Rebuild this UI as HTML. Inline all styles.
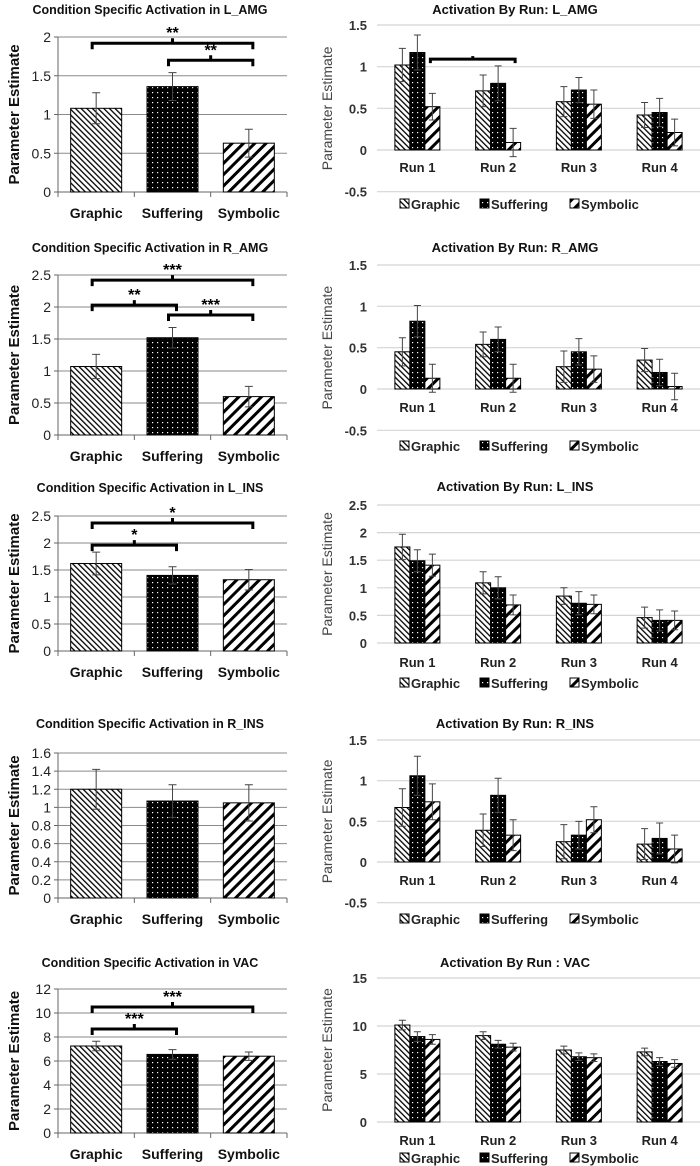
<!DOCTYPE html>
<html><head><meta charset="utf-8">
<style>
html,body{margin:0;padding:0;background:#fff;}
svg{display:block;font-family:"Liberation Sans",sans-serif;}
</style></head>
<body>
<svg id="fig" width="700" height="1166" viewBox="0 0 700 1166" xmlns="http://www.w3.org/2000/svg">
<defs>
<pattern id="pG" patternUnits="userSpaceOnUse" width="4" height="4" patternTransform="rotate(-45)">
<rect width="4" height="4" fill="#fff"/><rect x="0" y="0" width="1.3" height="4" fill="#000"/></pattern>
<pattern id="pS" patternUnits="userSpaceOnUse" width="5" height="5">
<rect width="5" height="5" fill="#000"/><rect x="2" y="2" width="1.2" height="1.2" fill="#fff"/></pattern>
<pattern id="pY" patternUnits="userSpaceOnUse" width="8" height="8" patternTransform="rotate(45)">
<rect width="8" height="8" fill="#fff"/><rect x="0" y="0" width="3" height="8" fill="#000"/></pattern>
</defs>
</svg>
<script>
// ---------- data ----------
const leftCats = ["Graphic","Suffering","Symbolic"];
const runCats = ["Run 1","Run 2","Run 3","Run 4"];

const L_AMG_vals = [1.08,1.36,0.63];
const L_AMG_err = [0.2,0.18,0.18];
const L_AMG_ticks = [0,0.5,1,1.5,2];
const L_AMG_brackets = [[0,2,1.92,"**"],[1,2,1.70,"**"]];

const R_AMG_vals = [1.07,1.52,0.6];
const R_AMG_err = [0.19,0.16,0.16];
const R_AMG_ticks = [0,0.5,1,1.5,2,2.5];
const R_AMG_brackets = [[0,2,2.42,"***"],[0,1,2.03,"**"],[1,2,1.875,"***"]];

const L_INS_vals = [1.62,1.4,1.32];
const L_INS_err = [0.21,0.16,0.19];
const L_INS_ticks = [0,0.5,1,1.5,2,2.5];
const L_INS_brackets = [[0,2,2.37,"*"],[0,1,1.96,"*"]];

const R_INS_vals = [1.2,1.07,1.05];
const R_INS_err = [0.22,0.18,0.2];
const R_INS_ticks = [0,0.2,0.4,0.6,0.8,1,1.2,1.4,1.6];
const R_INS_brackets = [];

const VAC_vals = [7.25,6.55,6.4];
const VAC_err = [0.4,0.4,0.35];
const VAC_ticks = [0,2,4,6,8,10,12];
const VAC_brackets = [[0,2,10.5,"***"],[0,1,8.67,"***"]];

const runL_AMG_graphic = [1.02,0.71,0.58,0.42];
const runL_AMG_suffering = [1.17,0.8,0.72,0.45];
const runL_AMG_symbolic = [0.52,0.09,0.55,0.21];
const runL_AMG_errG = [0.2,0.19,0.18,0.15];
const runL_AMG_errS = [0.21,0.21,0.15,0.17];
const runL_AMG_errY = [0.16,0.17,0.17,0.16];
const runL_AMG_ticks = [-0.5,0,0.5,1,1.5];

const runR_AMG_graphic = [0.45,0.54,0.27,0.35];
const runR_AMG_suffering = [0.82,0.6,0.45,0.2];
const runR_AMG_symbolic = [0.13,0.13,0.24,0.03];
const runR_AMG_errG = [0.17,0.15,0.19,0.14];
const runR_AMG_errS = [0.19,0.15,0.16,0.16];
const runR_AMG_errY = [0.17,0.17,0.16,0.16];
const runR_AMG_ticks = [-0.5,0,0.5,1,1.5];

const runL_INS_graphic = [1.74,1.09,0.85,0.46];
const runL_INS_suffering = [1.49,1.0,0.72,0.41];
const runL_INS_symbolic = [1.41,0.69,0.7,0.41];
const runL_INS_errG = [0.23,0.2,0.15,0.19];
const runL_INS_errS = [0.2,0.2,0.21,0.19];
const runL_INS_errY = [0.2,0.18,0.17,0.17];
const runL_INS_ticks = [0,0.5,1,1.5,2,2.5];

const runR_INS_graphic = [0.67,0.39,0.25,0.22];
const runR_INS_suffering = [1.06,0.82,0.33,0.29];
const runR_INS_symbolic = [0.74,0.33,0.52,0.16];
const runR_INS_errG = [0.23,0.2,0.21,0.19];
const runR_INS_errS = [0.24,0.21,0.17,0.19];
const runR_INS_errY = [0.22,0.19,0.16,0.17];
const runR_INS_ticks = [-0.5,0,0.5,1,1.5];

const runVAC_graphic = [10.1,9.0,7.5,7.3];
const runVAC_suffering = [8.9,8.1,6.8,6.3];
const runVAC_symbolic = [8.6,7.8,6.7,6.1];
const runVAC_errG = [0.5,0.4,0.4,0.4];
const runVAC_errS = [0.5,0.4,0.4,0.4];
const runVAC_errY = [0.5,0.4,0.4,0.4];
const runVAC_ticks = [0,5,10,15];

// ---------- drawing ----------
const svg = document.getElementById('fig');
const NS = "http://www.w3.org/2000/svg";
const fills = ["url(#pG)","url(#pS)","url(#pY)"];
function mk(tag, attrs, parent){
  const e = document.createElementNS(NS, tag);
  for (const k in attrs) e.setAttribute(k, attrs[k]);
  (parent||svg).appendChild(e);
  return e;
}
function txt(s, attrs, parent){ const t = mk('text', attrs, parent); t.textContent = s; return t; }

function leftPanel(name, title, titleY, yTop, y0, ticks, vals, errs, brackets){
  const g = mk('g', {});
  
  
  const x0 = 58, x1 = 287, max = ticks[ticks.length-1], min = ticks[0];
  const Y = v => y0 - (v - min) * (y0 - yTop) / (max - min);
  const band = (x1 - x0) / leftCats.length;
  const X = i => x0 + band * (i + 0.5);
  const t = txt(title, {x:150, y:titleY, 'text-anchor':'middle', 'font-size':12.5, 'font-weight':'bold', fill:'#111'}, g);
  
  
  ticks.forEach(v => {
    if (v !== min) mk('line', {x1:x0, x2:x1, y1:Y(v), y2:Y(v), stroke:'#8a8a8a', 'stroke-width':1}, g);
    const tl = txt(String(v), {x:x0-7, y:Y(v)+5, 'text-anchor':'end', 'font-size':14, fill:'#222'}, g);
    
    
    mk('line', {x1:x0-4, x2:x0, y1:Y(v), y2:Y(v), stroke:'#666'}, g);
  });
  mk('line', {x1:x0, x2:x0, y1:yTop, y2:y0, stroke:'#666'}, g);
  mk('line', {x1:x0, x2:x1, y1:y0, y2:y0, stroke:'#666'}, g);
  for (let i=0;i<=leftCats.length;i++) mk('line', {x1:x0+band*i, x2:x0+band*i, y1:y0, y2:y0+5, stroke:'#666'}, g);
  const yt = txt('Parameter Estimate', {x:0, y:0, 'text-anchor':'middle', 'font-size':15, 'font-weight':'bold', fill:'#111', transform:`translate(19,${(yTop+y0)/2}) rotate(-90)`}, g);
  
  
  vals.forEach((v,i) => {
    const b = mk('rect', {x:X(i)-25.5, y:Y(v), width:51, height:Y(min)-Y(v), fill:fills[i], stroke:'#000', 'stroke-width':1}, g);
    
    
    const e = errs[i];
    const eb = mk('path', {d:`M${X(i)},${Y(v-e)} V${Y(v+e)} M${X(i)-4},${Y(v+e)} H${X(i)+4} M${X(i)-4},${Y(v-e)} H${X(i)+4}`, stroke:'#444', 'stroke-width':1, fill:'none'}, g);
    
    
    const cl = txt(leftCats[i], {x:X(i), y:y0+26, 'text-anchor':'middle', 'font-size':14, 'font-weight':'bold', fill:'#111'}, g);
    
    
  });
  brackets.forEach(br => {
    const xa = X(br[0]) - 4, xb = X(br[1]) + 4, y = Y(br[2]), xm = (xa+xb)/2;
    const p = mk('path', {d:`M${xa},${y+6} V${y} H${xb} V${y+6} M${xm},${y} V${y-5}`, stroke:'#000', 'stroke-width':3, fill:'none'}, g);
    
    
    const s = txt(br[3], {x:xm, y:y-5, 'text-anchor':'middle', 'font-size':16, 'font-weight':'bold', fill:'#000'}, g);
    
    
  });
}

function runPanel(name, title, titleY, yTop, y0, runLabelY, legendY, ticks, series, errsets, bracket){
  const g = mk('g', {});
  
  
  const x0 = 377, x1 = 700, max = ticks[ticks.length-1], min = ticks[0];
  const Y = v => y0 - v * (y0 - yTop) / max;
  const band = (x1 - x0) / runCats.length;
  const X = i => x0 + band * (i + 0.5);
  const t = txt(title, {x:515, y:titleY, 'text-anchor':'middle', 'font-size':13, 'font-weight':'bold', fill:'#111'}, g);
  
  
  ticks.forEach(v => {
    mk('line', {x1:x0, x2:x1, y1:Y(v), y2:Y(v), stroke:'#d4d4d4', 'stroke-width':1.2}, g);
    const tl = txt(String(v), {x:x0-10, y:Y(v)+5, 'text-anchor':'end', 'font-size':13, 'font-weight':'bold', fill:'#333'}, g);
    
    
  });
  const yt = txt('Parameter Estimate', {x:0, y:0, 'text-anchor':'middle', 'font-size':14, fill:'#444', transform:`translate(332,${(Y(max)+Y(min))/2}) rotate(-90)`}, g);
  
  
  const bw = 15;
  series.forEach((vals, j) => {
    vals.forEach((v, i) => {
      const bx = X(i) + (j-1)*bw - bw/2;
      const top = Math.min(Y(v), Y(0)), h = Math.abs(Y(0)-Y(v));
      const b = mk('rect', {x:bx, y:top, width:bw, height:h, fill:fills[j], stroke:'#000', 'stroke-width':1}, g);
      
      
      const e = errsets[j][i], cx = bx + bw/2;
      const eb = mk('path', {d:`M${cx},${Y(v-e)} V${Y(v+e)} M${cx-3.5},${Y(v+e)} H${cx+3.5} M${cx-3.5},${Y(v-e)} H${cx+3.5}`, stroke:'#444', 'stroke-width':1, fill:'none'}, g);
      
      
    });
  });
  runCats.forEach((c,i) => {
    const rl = txt(c, {x:X(i), y:runLabelY+5, 'text-anchor':'middle', 'font-size':13, 'font-weight':'bold', fill:'#222'}, g);
    
    
  });
  const lx = [400, 480, 570];
  leftCats.forEach((c,j) => {
    const sw = mk('rect', {x:lx[j], y:legendY-5, width:9, height:9, fill:fills[j], stroke:'#000', 'stroke-width':1}, g);
    
    
    const lt = txt(c, {x:lx[j]+11, y:legendY+5, 'font-size':13, 'font-weight':'bold', fill:'#222'}, g);
    
    
  });
  if (bracket) {
    const xa = X(bracket[0]) + bw - 2, xb = X(bracket[1]) + bw + 2, y = Y(bracket[2]), xm = (xa+xb)/2;
    const p = mk('path', {d:`M${xa},${y+4} V${y} H${xb} V${y+4} M${xm},${y} V${y-3}`, stroke:'#000', 'stroke-width':3, fill:'none'}, g);
    
    
  }
}

leftPanel('l-amg', 'Condition  Specific Activation in L_AMG', 14, 37, 192, L_AMG_ticks, L_AMG_vals, L_AMG_err, L_AMG_brackets);
leftPanel('r-amg', 'Condition  Specific Activation in R_AMG', 252, 275, 435, R_AMG_ticks, R_AMG_vals, R_AMG_err, R_AMG_brackets);
leftPanel('l-ins', 'Condition  Specific Activation in L_INS', 492, 516, 651, L_INS_ticks, L_INS_vals, L_INS_err, L_INS_brackets);
leftPanel('r-ins', 'Condition  Specific Activation in R_INS', 728, 753, 898, R_INS_ticks, R_INS_vals, R_INS_err, R_INS_brackets);
leftPanel('vac', 'Condition  Specific Activation in VAC', 967, 989, 1133, VAC_ticks, VAC_vals, VAC_err, VAC_brackets);

runPanel('run-l-amg', 'Activation By Run: L_AMG', 14, 25, 150, 167, 204, runL_AMG_ticks,
  [runL_AMG_graphic, runL_AMG_suffering, runL_AMG_symbolic], [runL_AMG_errG, runL_AMG_errS, runL_AMG_errY], [0,1,1.09]);
runPanel('run-r-amg', 'Activation By Run: R_AMG', 252, 265, 389, 407, 446, runR_AMG_ticks,
  [runR_AMG_graphic, runR_AMG_suffering, runR_AMG_symbolic], [runR_AMG_errG, runR_AMG_errS, runR_AMG_errY], null);
runPanel('run-l-ins', 'Activation By Run: L_INS', 491, 505, 643, 662, 683, runL_INS_ticks,
  [runL_INS_graphic, runL_INS_suffering, runL_INS_symbolic], [runL_INS_errG, runL_INS_errS, runL_INS_errY], null);
runPanel('run-r-ins', 'Activation By Run: R_INS', 728, 740, 862, 880, 919, runR_INS_ticks,
  [runR_INS_graphic, runR_INS_suffering, runR_INS_symbolic], [runR_INS_errG, runR_INS_errS, runR_INS_errY], null);
runPanel('run-vac', 'Activation By Run : VAC', 967, 978, 1122, 1140, 1158, runVAC_ticks,
  [runVAC_graphic, runVAC_suffering, runVAC_symbolic], [runVAC_errG, runVAC_errS, runVAC_errY], null);
</script>
</body></html>
